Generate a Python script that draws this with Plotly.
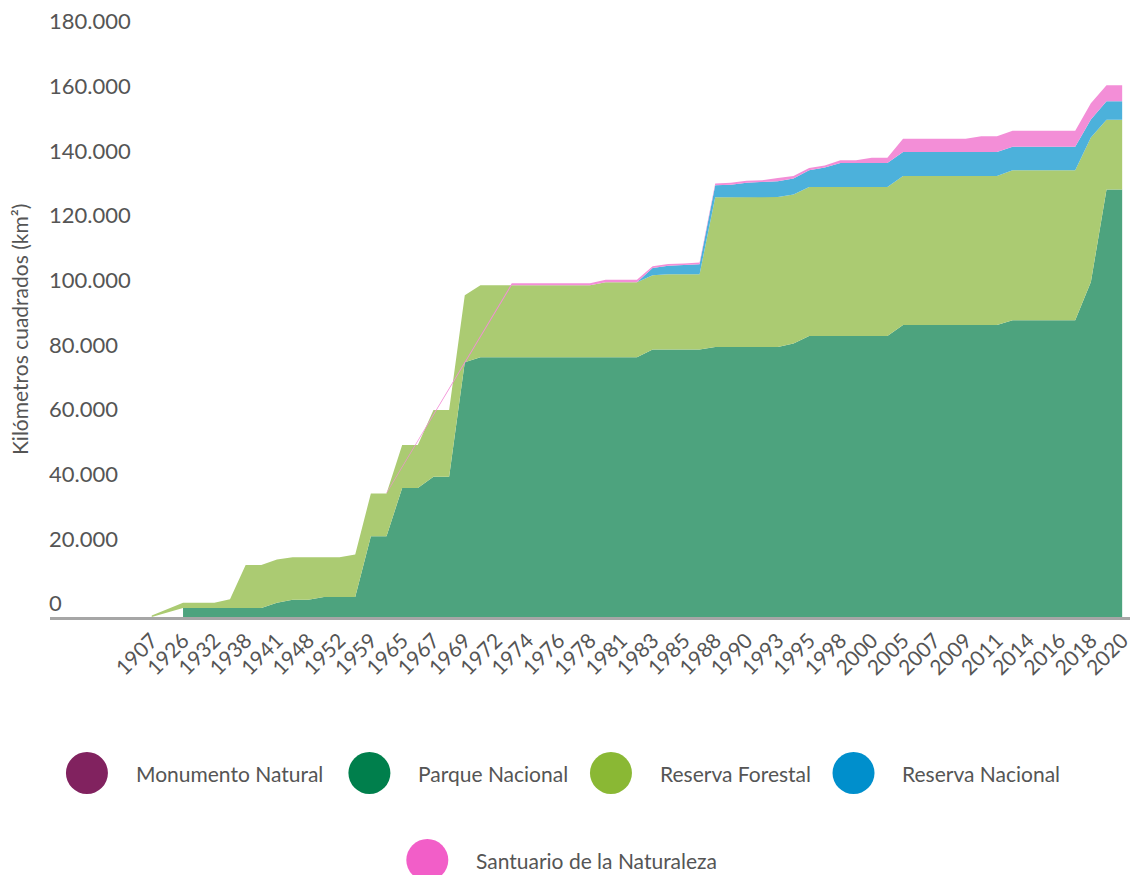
import plotly.graph_objects as go

# ---------------- data ----------------
tick_labels = ["1907", "1926", "1932", "1938", "1941", "1948", "1952", "1959",
               "1965", "1967", "1969", "1972", "1974", "1976", "1978", "1981",
               "1983", "1985", "1988", "1990", "1993", "1995", "1998", "2000",
               "2005", "2007", "2009", "2011", "2014", "2016", "2018", "2020"]

# 63 points (a label on every second point); None = no value
monumento = [0, 0, 0, 0, 0, 0, 0, 0, 0, 0, 0, 0, 0, 0, 0, 0, 0, 0, 0, 0, 0,
             0, 0, 0, 0, 0, 0, 0, 0, 0, 0, 0, 0, 0, 0, 0, 0, 0, 0, 0, 0, 0,
             0, 0, 0, 0, 0, 0, 0, 0, 0, 0, 0, 0, 0, 0, 0, 0, 0, 0, 0, 0, 0]

parque = [None, None, 2800, 2800, 2800, 2800, 2800, 2800, 4400, 5300, 5300,
          6200, 6200, 6200, 25000, 25000, 39900, 39900, 43400, 43400, 78800,
          80300, 80300, 80300, 80300, 80300, 80300, 80300, 80300, 80300, 80300, 80300,
          82700, 82700, 82700, 82700, 83500, 83500, 83500, 83500, 83500, 84600,
          86900, 86900, 86900, 86900, 86900, 86900,
          90300, 90300, 90300, 90300, 90300, 90300, 90300,
          91800, 91800, 91800, 91800, 91800, 103600, 132200, 132200]

reserva_forestal = [500, None, 1600, 1600, 1600, 2700, 13300, 13300, 13400, 13200, 13200,
                    12300, 12300, 13100, 13200, 13200, 13300, 13300, 20600, 20600, 20700,
                    22300, 22300, 22300, 22300, 22300, 22300, 22300, 22300, 23200, 23200, 23200,
                    23000, 23300, 23300, 23300, 46300, 46300, 46300, 46300, 46400, 46100,
                    46100, 46100, 46100, 46100, 46100, 46100,
                    46100, 46100, 46100, 46100, 46100, 46100, 46100,
                    46400, 46400, 46400, 46400, 46400, 44700, 21600, 21600]

reserva_nacional = [None, None, None, None, None, None, None, None, None, None, None,
                    None, None, None, None, None, None, None, None, None, None,
                    None, None, None, None, None, None, None, None, None, None, 0,
                    2200, 2600, 2800, 3100, 3700, 3900, 4500, 4700, 4900, 4900,
                    5200, 6000, 7400, 7400, 7400, 7400,
                    7400, 7400, 7400, 7400, 7400, 7400, 7400,
                    7200, 7200, 7200, 7200, 7200, 5600, 5700, 5700]

santuario = [None, None, None, None, None, None, None, None, None, None, None,
             None, None, None, None, 300, None, None, None, None, None,
             None, None, 600, 600, 600, 600, 600, 600, 800, 800, 800,
             550, 550, 550, 550, 600, 600, 600, 600, 1000, 800,
             700, 650, 850, 850, 1650, 1650,
             4150, 4150, 4150, 4150, 4150, 4850, 4850,
             4950, 4950, 4950, 4950, 4950, 5000, 4950, 4950]

series_names = ["Monumento Natural", "Parque Nacional", "Reserva Forestal",
                "Reserva Nacional", "Santuario de la Naturaleza"]
series_values = [monumento, parque, reserva_forestal, reserva_nacional, santuario]

# ---------------- styles ----------------
legend_colors = ["#81225f", "#007f4c", "#8ab834", "#008fcc", "#f25ec8"]
fill_colors = ["#a8649a", "#4da37e", "#abcb72", "#4cb1db", "#f38ed7"]
FONT = "Lato"
TEXT = "#555555"

W, H = 1132, 875
ML, MR, MT, MB = 50, 0, 35, 258
PW, PH = W - ML - MR, H - MT - MB

positions = list(range(len(parque)))

fig = go.Figure()

# stacked areas (each layer drawn over its own non-empty points)
for k, (name, vals) in enumerate(zip(series_names, series_values)):
    xs, tops, bases = [], [], []
    for i, v in enumerate(vals):
        if v is None:
            continue
        base = sum((series_values[j][i] or 0) for j in range(k))
        xs.append(positions[i])
        bases.append(base)
        tops.append(base + v)
    fig.add_trace(go.Scatter(
        x=xs + xs[::-1], y=tops + bases[::-1],
        mode="lines", fill="toself", fillcolor=fill_colors[k],
        line=dict(width=0, color=fill_colors[k]),
        name=name, hoverinfo="skip", showlegend=False))

# custom legend (big circles)
def px_to_paper_x(px):
    return (px - ML) / PW

def px_to_paper_y(py):
    return (H - MB - py) / PH

legend_pos = [(87, 773), (370, 773), (612, 773), (855, 773), (428, 860)]
for (cx, cy), name, col in zip(legend_pos, series_names, legend_colors):
    fig.add_shape(type="circle", xref="paper", yref="paper",
                  xsizemode="pixel", ysizemode="pixel",
                  xanchor=px_to_paper_x(cx), yanchor=px_to_paper_y(cy),
                  x0=-21, x1=21, y0=-21, y1=21,
                  fillcolor=col, line=dict(width=0))
    fig.add_annotation(x=px_to_paper_x(cx + 47), y=px_to_paper_y(cy),
                       xref="paper", yref="paper", xanchor="left", yanchor="middle",
                       text=name, showarrow=False,
                       font=dict(family=FONT, size=21, color=TEXT))

# y-axis title
fig.add_annotation(x=px_to_paper_x(19), y=px_to_paper_y(330), xref="paper", yref="paper",
                   text="Kilómetros cuadrados (km²)", textangle=-90, showarrow=False,
                   xanchor="center", yanchor="middle",
                   font=dict(family=FONT, size=21, color=TEXT))

fig.update_layout(
    width=W, height=H,
    margin=dict(l=ML, r=MR, t=MT, b=MB),
    plot_bgcolor="white", paper_bgcolor="white",
    showlegend=False,
    separators=",.",
    font=dict(family=FONT, color=TEXT, size=21),
    xaxis=dict(range=[-6.5, 62.5], tickmode="array",
               tickvals=positions[::2], ticktext=tick_labels,
               tickangle=-45, showgrid=False, zeroline=False,
               showline=True, linewidth=3, linecolor="#a6a6a6",
               ticks="", ticklabeloverflow="allow",
               tickfont=dict(family=FONT, size=21, color=TEXT)),
    yaxis=dict(range=[0, 180000], tick0=0, dtick=20000, tickformat=",d",
               showgrid=False, zeroline=False, showline=False, ticks="",
               ticklabelposition="inside top", ticklabeloverflow="allow",
               ticklabelstandoff=-4, ticklabelshift=2,
               tickfont=dict(family=FONT, size=22, color=TEXT)),
)

fig.write_html("out.html", config={"displayModeBar": False},
               post_script="document.body.style.margin='0';document.body.style.padding='0';")
